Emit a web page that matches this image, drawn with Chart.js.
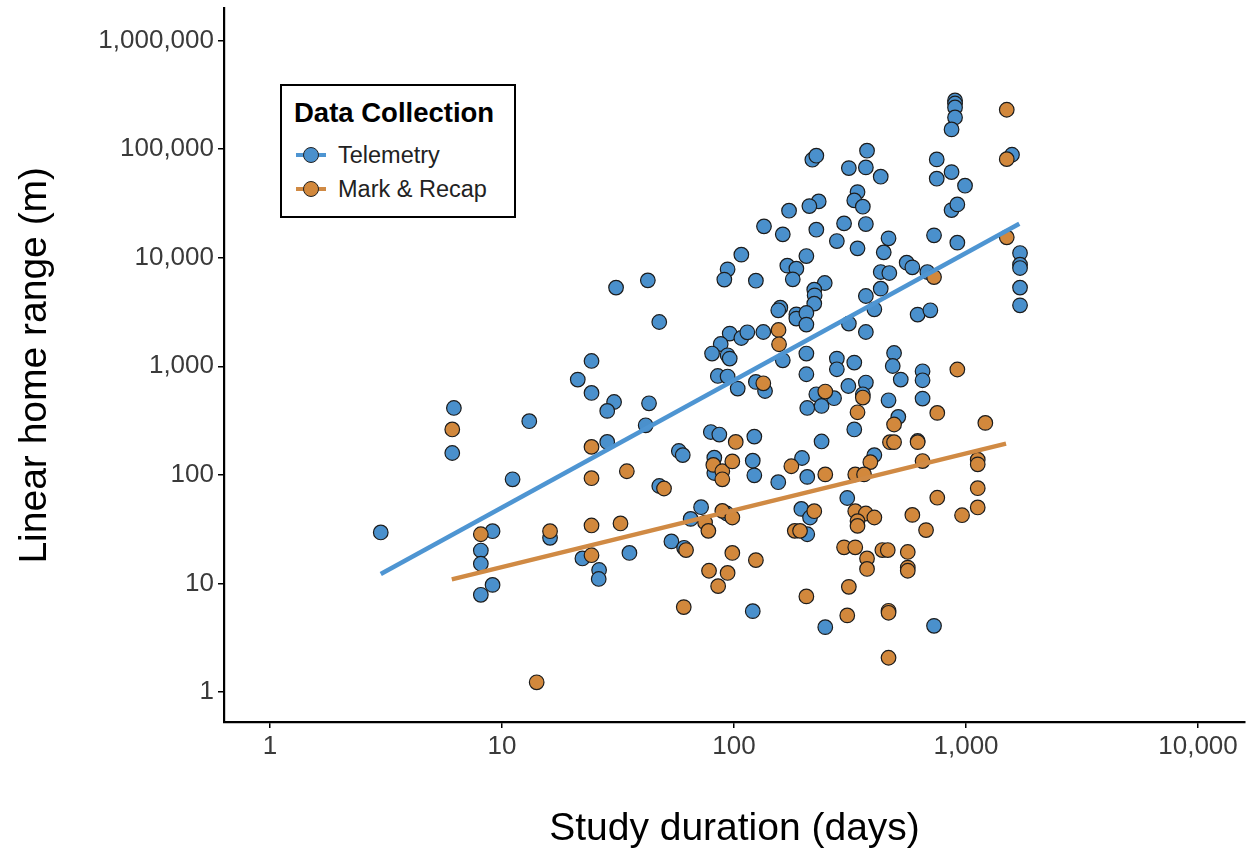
<!DOCTYPE html>
<html>
<head>
<meta charset="utf-8">
<script src="https://cdn.jsdelivr.net/npm/chart.js@4.4.1/dist/chart.umd.min.js"></script>
<style>
  html, body { margin: 0; padding: 0; background: #fff; }
  #wrap { position: relative; width: 1257px; height: 855px; }
  #legend { position: absolute; left: 280px; top: 84px; width: 236px; height: 134px; box-sizing: border-box;
            border: 2px solid #000; background: #fff; font-family: "Liberation Sans", Arial, sans-serif; }
  #legend .ttl { position: absolute; left: 12px; top: 12px; font-weight: bold; font-size: 27.5px; line-height: 30px; color: #000; }
  #legend .item { position: absolute; left: 14px; height: 30px; display: flex; align-items: center; font-size: 23.5px; color: #222; }
  #legend .key { position: relative; width: 30px; height: 30px; margin-right: 12px; }
  #legend .key .ln { position: absolute; left: 0; right: 0; top: 13px; height: 4px; }
  #legend .key .dot { position: absolute; left: 7px; top: 7px; width: 14px; height: 14px; border-radius: 50%; border: 1.3px solid #222; }
</style>
</head>
<body>
<div id="wrap">
  <canvas id="c" width="1257" height="855"></canvas>
  <div id="legend"></div>
</div>
<script>
// ---- Data ----
const seriesNames = ["Telemetry", "Mark & Recap"];

const telemetryDays = [3, 6.2, 6.1, 13.1, 11.1, 9.1, 8.1, 8.1, 9.1, 8.1, 16.1, 31, 42.5, 47.6, 24.3, 21.2, 24.3, 30.4, 28.4, 43, 41.6, 28.4, 57.8, 60.1,
  107.5, 93.8, 90.8, 124.2, 95.8, 107.5, 114.1, 133.7, 87.6, 80.4, 93.8, 95.8, 85.1, 93.8, 103.7, 124.2, 79.4, 86.4, 122.3, 82.2, 120.4, 82.2, 122.3,
  47.6, 72.1, 65, 93, 53.7, 60.9, 22.2, 35.4, 26.2, 26.1, 120.4,
  896.6, 896.6, 896.6, 896.6, 866.1, 217.5, 226.3, 374.3, 312.5, 370, 428.8, 747.6, 866.1, 747.6, 340.6, 329.8, 359, 231.7, 211.2, 172.6, 866.1, 917.3,
  134.6, 162.2, 226.3, 298, 370, 277.4, 340.6, 463.4, 441.8, 727.8, 917.3, 205, 169.7, 185.6, 179.1, 246, 221.7, 222.5, 221.7, 428.8, 467, 554.8, 586.9,
  680.9, 428.8, 370, 402.5, 158.3, 155.1, 185.6, 185.6, 205, 205, 312.5, 370, 618.6, 701.8,
  162.2, 205, 277.4, 277.4, 329.8, 489.5, 483.1, 649.5, 649.5, 205, 523.1, 136, 226.3, 269.8, 238.4, 311, 370, 359, 206.8, 463.4, 649.5, 510.6, 329.8,
  238.4, 618.6, 196.3, 402.5, 155.1, 206.8, 307.6, 195, 212.6, 206.8, 247.3, 727.8, 1578, 990, 1709, 1709, 1709, 1709, 1709];
const telemetryRange = [29.5, 413, 159, 312, 91, 30.3, 20.1, 15.2, 9.7, 7.86, 26.3, 5300, 6180, 2556, 1119, 754, 568, 469, 388, 456, 286, 201, 166, 152,
  10660, 7810, 6280, 6140, 2000, 1820, 2055, 2068, 1603, 1309, 1262, 1177, 814, 804, 623, 717, 248, 235, 225, 144, 135, 104, 99,
  79, 50.4, 39.3, 44.1, 24.4, 21.3, 17, 19.1, 13.3, 11, 5.56,
  280400, 263000, 241700, 195600, 151700, 79800, 86900, 96600, 66800, 67800, 55670, 80300, 61380, 53360, 40170, 33690, 29480, 32990, 29850, 27080, 27430, 30940,
  19420, 16390, 18100, 20690, 20390, 14220, 12180, 15060, 11190, 16050, 13750, 10350, 8445, 7925, 6318, 5842, 5077, 4500, 3775, 7375, 7220, 9000, 8145,
  7375, 5186, 4436, 3345, 3467, 3275, 3008, 2748, 3093, 2419, 2471, 2068, 2990, 3275,
  1135, 1309, 1177, 938, 1081, 1325, 1006, 899, 743, 844, 754, 592, 552, 508, 431, 658, 708, 552, 413, 486, 504, 342, 262,
  203, 205, 143, 152, 85.6, 95.8, 61.2, 48.6, 40.5, 28.4, 3.96, 4.07, 88700, 46000, 11030, 8625, 8027, 5300, 3640];

const markRecapDays = [6.1, 8.1, 16.1, 14.1, 24.3, 34.5, 24.3, 49.9, 81.4, 89, 89, 98.3, 101.7, 133.7, 24.3, 32.4, 89, 98.3, 75, 77.5, 62.1, 24.3, 98.3,
  124.2, 78, 93.8, 85.4, 60.7, 727.8, 155.5, 156.3, 917.3, 247.3, 359, 340.6, 489.5, 751.7, 470, 489.5, 618.6, 176.6, 386.8, 649.5, 247.3, 333, 363.4,
  751.7, 221.7, 182.7, 192.5, 333, 370, 402.5, 340.6, 340.6, 586.9, 672.4, 961.2, 298, 333, 435.7, 459.8, 560.8, 374.3, 374.3, 560.8, 560.8, 312.5, 205,
  463.4, 463.4, 307.6, 463.4, 1498, 1498, 1498, 1211, 1123, 1123, 1123, 1123];
const markRecapRange = [262, 28.4, 30.3, 1.23, 181, 108, 93.2, 74.9, 123.5, 108, 91, 133, 201, 697, 34.2, 35.7, 46.6, 40.5, 36.4, 30.5, 20.3, 18.2, 19.1,
  16.4, 13.1, 12.5, 9.45, 6.06, 6632, 2158, 1594, 934, 585, 515, 377, 291, 372, 200, 200, 200, 120, 131, 134, 101, 101, 101,
  61.6, 46.3, 30.5, 30.5, 46.3, 44.1, 40.5, 37.5, 33.9, 42.8, 31, 42.5, 21.5, 21.5, 20.3, 20.3, 19.5, 17, 13.6, 14, 13.1, 9.31, 7.6,
  5.6, 5.37, 5.08, 2.07, 230100, 80800, 15380, 301, 138, 125, 75.4, 50.1];

// fitted trend lines (end points)
const telemetryFitDays = [3, 1697];
const telemetryFitRange = [12.2, 20560];
const markRecapFitDays = [6.07, 1487];
const markRecapFitRange = [10.9, 194];

const xTickValues = [1, 10, 100, 1000, 10000];
const yTickValues = [1, 10, 100, 1000, 10000, 100000, 1000000];

// ---- Styling ----
const blueFill = "#4A90CC", orangeFill = "#D2883C";
const blueLine = "#4E95D2", orangeLine = "#D08A44";
const tickFont = { family: "'Liberation Sans', Arial, sans-serif", size: 26 };
const titleFont = { family: "'Liberation Sans', Arial, sans-serif", size: 39 };

const toPts = (xs, ys) => xs.map((x, i) => ({ x: x, y: ys[i] }));

const datasets = [
  { type: "line", label: seriesNames[0] + " fit", data: toPts(telemetryFitDays, telemetryFitRange), borderColor: blueLine,
    borderWidth: 4.5, pointRadius: 0, fill: false, order: 0, showLine: true },
  { type: "line", label: seriesNames[1] + " fit", data: toPts(markRecapFitDays, markRecapFitRange), borderColor: orangeLine,
    borderWidth: 4.5, pointRadius: 0, fill: false, order: 0, showLine: true },
  { type: "scatter", label: seriesNames[0], data: toPts(telemetryDays, telemetryRange), backgroundColor: blueFill,
    borderColor: "#1c1c1c", borderWidth: 1.2, pointRadius: 7.3, order: 2 },
  { type: "scatter", label: seriesNames[1], data: toPts(markRecapDays, markRecapRange), backgroundColor: orangeFill,
    borderColor: "#1c1c1c", borderWidth: 1.2, pointRadius: 7.3, order: 1 }
];

const fmt = v => Number(v).toLocaleString("en-US");
const noPad = s => { s.paddingTop = 0; s.paddingBottom = 0; s.paddingLeft = 0; s.paddingRight = 0; };

new Chart(document.getElementById("c"), {
  type: "scatter",
  data: { datasets: datasets },
  options: {
    responsive: false,
    animation: false,
    devicePixelRatio: 1,
    layout: { padding: { top: 8, right: 12, left: 0, bottom: 0 } },
    plugins: { legend: { display: false }, tooltip: { enabled: false } },
    scales: {
      x: {
        type: "logarithmic",
        bounds: "data",
        min: 0.633, max: 15940,
        afterFit: s => { s.height = 133; noPad(s); },
        afterBuildTicks: s => { s.ticks = xTickValues.map(v => ({ value: v })); },
        ticks: { callback: v => fmt(v), font: tickFont, color: "#3a3a3a", padding: 3, maxRotation: 0, autoSkip: false },
        grid: { display: true, drawOnChartArea: false, drawTicks: true, tickLength: 6, color: "#000", lineWidth: 1.5 },
        border: { display: true, color: "#000", width: 2.2 },
        title: { display: true, text: "Study duration (days)", font: titleFont, color: "#000", padding: { top: 0, bottom: 2 } }
      },
      y: {
        type: "logarithmic",
        bounds: "data",
        min: 0.53, max: 1970000,
        afterFit: s => { s.width = 224; noPad(s); },
        afterBuildTicks: s => { s.ticks = yTickValues.map(v => ({ value: v })); },
        ticks: { callback: v => fmt(v), font: tickFont, color: "#3a3a3a", padding: 4, autoSkip: false },
        grid: { display: true, drawOnChartArea: false, drawTicks: true, tickLength: 6, color: "#000", lineWidth: 1.5 },
        border: { display: true, color: "#000", width: 2.2 },
        title: { display: true, text: "Linear home range (m)", font: titleFont, color: "#000", padding: { top: 12, bottom: 0 } }
      }
    }
  }
});

// ---- Legend (HTML text) ----
const legend = document.getElementById("legend");
legend.innerHTML = '<div class="ttl">Data Collection</div>';
[[seriesNames[0], blueLine, blueFill, 54], [seriesNames[1], orangeLine, orangeFill, 88]].forEach(([name, lc, fc, top]) => {
  const it = document.createElement("div");
  it.className = "item";
  it.style.top = top + "px";
  it.innerHTML = '<div class="key"><div class="ln" style="background:' + lc + '"></div><div class="dot" style="background:' + fc + '"></div></div><span></span>';
  it.querySelector("span").textContent = name;
  legend.appendChild(it);
});
</script>
</body>
</html>
